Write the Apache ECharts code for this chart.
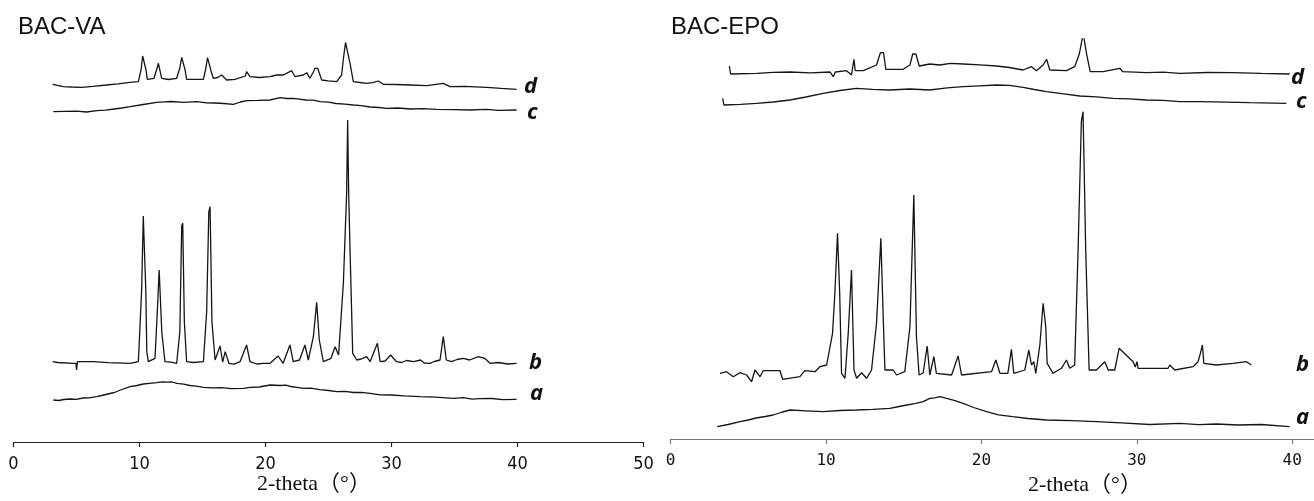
<!DOCTYPE html>
<html><head><meta charset="utf-8">
<script src="https://cdn.jsdelivr.net/npm/echarts@6/dist/echarts.min.js"></script>
<style>html,body{margin:0;padding:0;background:#fff}#c{width:1314px;height:501px}</style>
</head><body><div id="c"></div>
<script>
// Panel titles and trace labels
const panelTitles = ['BAC-VA', 'BAC-EPO'];
const traceNames = ['a', 'b', 'c', 'd'];
const axisTitle = '2-theta（°）';
const vaTicks = [0, 10, 20, 30, 40, 50];
const epoTicks = [0, 10, 20, 30, 40];

// BAC-VA traces: [2-theta, intensity (a.u., stacked offset included)]
const vaA = [[3.16,42],[3.6,41.5],[4.0,42.5],[4.5,43],[5.0,42.6],[5.5,44],[6.0,44.2],[6.6,45.3],[7.0,46.5],[7.5,48],[8.0,49.5],[8.5,52],[9.25,55.3],[9.8,56.5],[10.3,58],[10.8,58.6],[11.36,59.3],[11.8,60.2],[12.2,59.8],[12.6,60],[12.95,58.7],[13.5,57.8],[14.0,56.5],[14.5,55.8],[15.07,54.7],[15.8,54.2],[16.5,54.3],[17.3,53.3],[18.24,53.7],[18.8,54.6],[19.5,55],[20.36,57],[21.15,56.5],[21.6,56.8],[22.0,55.5],[22.5,54.6],[23.0,53.7],[23.6,53.8],[24.3,52.3],[25.0,51.5],[25.65,50.3],[26.3,50.6],[27.0,49.5],[27.6,49.6],[28.29,48.7],[29.1,47.2],[30.0,47],[31.0,46.1],[32.26,45.3],[33.5,44.8],[34.9,43.7],[35.7,44.4],[36.4,42.9],[37.0,43.3],[38.0,43.5],[38.8,42.4],[39.93,42.7]];
const vaB = [[3.11,80.3],[3.5,79.5],[4.75,78.7],[4.95,78.7],[5.01,72],[5.07,80.3],[6.33,80.3],[7.5,79.3],[9.25,78.7],[9.91,80.3],[10.17,152],[10.3,226],[10.38,228],[10.5,152],[10.58,90],[10.7,80.3],[11.23,83.7],[11.42,132],[11.56,172],[11.63,172],[11.77,110],[12.02,80.3],[12.5,79.8],[12.95,78.7],[13.2,110],[13.35,216],[13.43,218.7],[13.56,120],[13.74,80.3],[14.3,79.5],[15.07,80.3],[15.33,130],[15.5,230],[15.6,235.3],[15.75,120],[16.0,82],[16.39,96],[16.6,80],[16.8,90.3],[17.1,78.7],[17.5,77.8],[17.98,80.3],[18.5,97],[18.77,80.3],[19.3,78],[19.83,78.7],[20.36,78.7],[21.0,86],[21.4,78.7],[21.94,97],[22.2,80.3],[22.7,82],[23.13,97],[23.4,82],[23.8,105.3],[24.06,139.7],[24.27,102],[24.59,80.3],[25.2,83.7],[25.52,95.3],[25.8,87],[26.18,158.7],[26.44,248.7],[26.52,322],[26.6,250],[26.71,192],[26.92,88.7],[27.24,82],[27.6,83],[28.03,85.3],[28.3,80.3],[28.88,98.7],[29.1,80.3],[29.5,81],[29.93,87],[30.4,80.3],[30.8,79.5],[31.2,81.5],[31.74,80.3],[32.3,82],[32.6,79],[33.05,78.7],[33.4,80.5],[33.85,82],[34.11,105.3],[34.35,82],[34.77,80.3],[35.2,82.5],[35.7,83.7],[36.2,82],[36.89,85.3],[37.4,83.7],[37.82,78.7],[38.5,79.5],[39.2,78],[39.93,78.7]];
const vaC = [[3.16,330.3],[4.0,330.6],[5.0,330.8],[5.8,330],[6.6,331.3],[7.3,331.8],[8.0,333],[8.6,334],[9.25,335.3],[10.3,337.5],[11.36,339.7],[12.0,340.2],[12.5,340.5],[13.5,339.6],[14.54,340.3],[15.3,339.2],[16.0,339],[16.7,338.5],[17.45,337.7],[18.0,340],[18.5,341.3],[19.4,341.6],[20.36,342],[21.15,344.3],[21.7,343.5],[22.21,343.7],[23.2,342],[23.8,341.8],[24.33,340.3],[25.0,339.8],[25.6,338.5],[26.3,337.9],[26.97,337],[27.6,336.4],[28.3,335],[29.0,334.5],[29.62,333.7],[30.5,334],[31.5,333],[32.5,333.4],[33.58,332.7],[35.0,332.4],[36.23,332],[37.5,332.6],[38.5,331.6],[39.93,332]];
const vaD = [[3.11,357.7],[3.96,355.3],[4.6,355],[5.41,354.7],[6.3,355.6],[7.39,357],[8.3,358.2],[9.25,359.7],[9.91,360.3],[10.12,372],[10.25,386],[10.4,386],[10.52,372],[10.62,362.7],[11.15,363.7],[11.35,372],[11.5,378.7],[11.62,378.7],[11.76,363.7],[12.3,362.5],[12.95,363.7],[13.2,374],[13.35,384.7],[13.48,384.7],[13.62,372],[13.74,362.7],[14.4,362.7],[15.07,362.7],[15.27,374],[15.4,384.3],[15.52,384.3],[15.7,370],[15.86,363.7],[16.2,364.5],[16.52,367],[16.92,362],[17.58,362.7],[18.4,366],[18.5,370.3],[18.77,365.3],[19.5,364.5],[20.36,365.3],[20.89,367],[21.41,367],[22.08,371.3],[22.34,365.3],[23.0,367],[23.27,369.3],[23.53,363.7],[23.8,370],[23.93,373.7],[24.14,373.7],[24.46,362],[25.0,361.2],[25.65,360.3],[26.04,367],[26.2,385],[26.35,399.5],[26.5,399.5],[26.71,378.7],[26.97,360.3],[27.5,359.5],[28.03,358.7],[28.5,359.3],[28.96,361],[29.35,357.7],[30.4,357.5],[31.47,357],[32.8,356.3],[34.11,358.7],[34.64,355.3],[35.8,355.6],[37.55,354.7],[38.7,353.6],[39.93,352.7]];

// BAC-EPO traces
const epoA = [[3.0,12.3],[3.7,14.5],[4.46,17.3],[5.0,19],[5.5,21],[6.1,22.5],[6.6,24],[7.2,27],[7.68,29],[8.7,28.2],[9.82,27.3],[10.9,28.5],[11.96,29],[13.0,29.6],[14.11,30.7],[14.7,32.5],[15.2,34],[15.7,35.4],[16.25,37.3],[16.68,40.7],[17.0,41.2],[17.32,42.3],[17.76,40.7],[18.3,38.4],[18.82,35.7],[19.5,31.5],[20.33,27.3],[21.1,24.2],[22.01,22.3],[23.0,20.5],[24.19,19],[25.8,18.4],[27.4,17.3],[29.0,16.1],[30.83,14.5],[32.76,15.7],[34.0,14.4],[35.12,15],[36.5,14],[38.0,14.5],[39.83,12.3]];
const epoB = [[3.18,65.7],[3.6,67.3],[4.03,62.3],[4.46,66.3],[4.89,64],[5.21,57.3],[5.43,69],[5.75,62.3],[5.96,68.3],[7.04,68.3],[7.21,59.7],[8.32,62.3],[8.64,68.3],[9.29,67.3],[9.61,72.3],[10.04,74],[10.42,105.7],[10.57,145.7],[10.74,205.7],[10.88,145.7],[11.0,65.7],[11.22,60.7],[11.43,105.7],[11.64,169],[11.8,69],[11.97,60.7],[12.29,66.3],[12.61,60.7],[12.93,69],[13.25,115.7],[13.53,200.7],[13.68,122.3],[13.79,69],[14.32,69],[14.54,64],[15.07,67.3],[15.4,112.3],[15.65,244],[15.82,102.3],[15.99,64],[16.25,66],[16.51,93],[16.68,64],[16.94,82.3],[17.1,65.7],[18.08,64],[18.5,83],[18.72,64],[20.65,67.3],[20.93,79],[21.19,65.7],[21.7,65.7],[21.93,89.7],[22.08,65.7],[22.79,69],[23.05,89],[23.22,74],[23.37,77.3],[23.5,65.7],[23.76,94],[23.97,135.7],[24.14,112.3],[24.23,75.7],[24.61,65.7],[25.15,70.7],[25.47,79],[25.68,70.7],[26.0,74],[26.22,189],[26.43,317.3],[26.54,327.3],[26.71,189],[26.93,69],[27.4,69],[27.94,77.3],[28.16,69],[28.58,69],[28.86,90.7],[29.76,77.3],[29.9,72],[30.01,77.3],[30.08,70.7],[32.01,70.7],[32.12,74],[32.44,69],[33.62,72.3],[33.94,77.3],[34.09,85.7],[34.22,94],[34.31,75.7],[35.12,74],[36.19,75.7],[37.05,77.3],[37.37,74]];
const epoC = [[3.35,340.7],[3.43,334],[4.5,334.6],[5.53,335.7],[6.6,337],[7.68,339],[8.7,342],[9.82,345.7],[10.9,348.5],[11.96,350.7],[13.0,349.6],[14.11,349],[15.4,350],[16.68,349],[17.8,351.2],[18.82,352.3],[19.9,353.2],[20.97,354],[21.8,353.6],[22.68,351.7],[23.4,349.5],[24.19,347.3],[25.3,345.2],[26.33,343],[27.4,342.2],[28.47,340.7],[29.5,340.2],[30.61,339],[31.7,338.6],[32.76,337.3],[34.05,337.3],[35.7,336.8],[37.26,336.3],[39.62,335.7]];
const epoD = [[3.78,373],[3.86,365],[5.53,365.7],[6.6,366.6],[7.68,367],[9.0,366.2],[10.25,367],[10.47,362.3],[10.6,367],[11.32,368.3],[11.64,364],[11.8,379.7],[11.88,368.3],[12.4,368.3],[13.25,374],[13.5,386.3],[13.7,386.3],[13.85,369.7],[14.97,369.7],[15.4,374],[15.58,385],[15.78,385],[16.0,373],[16.68,375],[17.32,374],[18.0,375.6],[18.82,375],[19.9,374.2],[20.97,373],[21.8,371.5],[22.68,369],[23.22,372.3],[23.54,368.3],[23.97,374],[24.19,379.7],[24.4,369],[25.47,368.3],[26.0,372.3],[26.3,385],[26.55,405.7],[26.76,385.7],[27.0,367.3],[27.83,367.3],[28.9,370.7],[29.1,367.3],[30.61,366.3],[31.7,366.9],[32.76,365.7],[34.5,366.5],[36.19,366.3],[38.0,365.6],[39.83,365]];

const chart = echarts.init(document.getElementById('c'), null, {renderer: 'canvas'});
const lineCol = '#151515';
function mkSeries(data, idx) {
  return {type: 'line', data: data, xAxisIndex: idx, yAxisIndex: idx, symbol: 'none',
    lineStyle: {color: lineCol, width: 1.3}, silent: true, animation: false};
}
function xAx(gridIndex, max, ticks, labelFont, labelSize, axisCol, margin) {
  return {type: 'value', gridIndex: gridIndex, min: 0, max: max, interval: 10,
    axisLine: {show: true, lineStyle: {color: axisCol, width: 1.2}},
    axisTick: {show: true, length: 5, customValues: ticks, lineStyle: {color: axisCol, width: 1.2}},
    axisLabel: {customValues: ticks, color: '#111', fontFamily: labelFont, fontSize: labelSize, margin: margin},
    splitLine: {show: false}};
}
function yAx(gridIndex) {
  return {type: 'value', gridIndex: gridIndex, min: 0, max: 400, show: false, splitLine: {show: false}};
}
const lblStyle = {fontFamily: '"Open Sans", "Noto Sans", sans-serif', fontWeight: 'bold', fontStyle: 'italic', fontSize: 22, fill: '#111'};
function lbl(text, x, y) {
  return {type: 'text', left: x, top: y, style: Object.assign({text: text}, lblStyle)};
}
const option = {
  backgroundColor: '#fff',
  animation: false,
  grid: [
    {left: 13.5, width: 630, top: 42, height: 400},
    {left: 670.6, width: 643.8, top: 39, height: 400}
  ],
  xAxis: [
    xAx(0, 50, vaTicks, '"Liberation Sans Narrow", "DejaVu Sans Condensed", "Liberation Sans", sans-serif', 18, '#222', 13),
    xAx(1, 41.4, epoTicks, '"DejaVu Sans Mono", "Liberation Mono", monospace', 16, '#777', 14)
  ],
  yAxis: [yAx(0), yAx(1)],
  series: [
    mkSeries(vaA, 0), mkSeries(vaB, 0), mkSeries(vaC, 0), mkSeries(vaD, 0),
    mkSeries(epoA, 1), mkSeries(epoB, 1), mkSeries(epoC, 1), mkSeries(epoD, 1)
  ],
  graphic: [
    {type: 'text', left: 18, top: 15, style: {text: panelTitles[0], fontFamily: '"Liberation Sans", Arial, sans-serif', fontSize: 24, fill: '#111'}},
    {type: 'text', left: 671, top: 15, style: {text: panelTitles[1], fontFamily: '"Liberation Sans", Arial, sans-serif', fontSize: 24, fill: '#111'}},
    {type: 'text', left: 257, top: 473, style: {text: axisTitle, fontFamily: '"Liberation Serif", "Noto Sans CJK SC", serif', fontSize: 22, fill: '#111'}},
    {type: 'text', left: 1028, top: 474, style: {text: axisTitle, fontFamily: '"Liberation Serif", "Noto Sans CJK SC", serif', fontSize: 22, fill: '#111'}},
    lbl(traceNames[3], 524, 76), lbl(traceNames[2], 527, 102), lbl(traceNames[1], 529, 352), lbl(traceNames[0], 530, 383),
    lbl(traceNames[3], 1291, 67), lbl(traceNames[2], 1296, 91), lbl(traceNames[1], 1296, 354), lbl(traceNames[0], 1296, 407)
  ]
};
chart.setOption(option);
</script>
</body></html>
